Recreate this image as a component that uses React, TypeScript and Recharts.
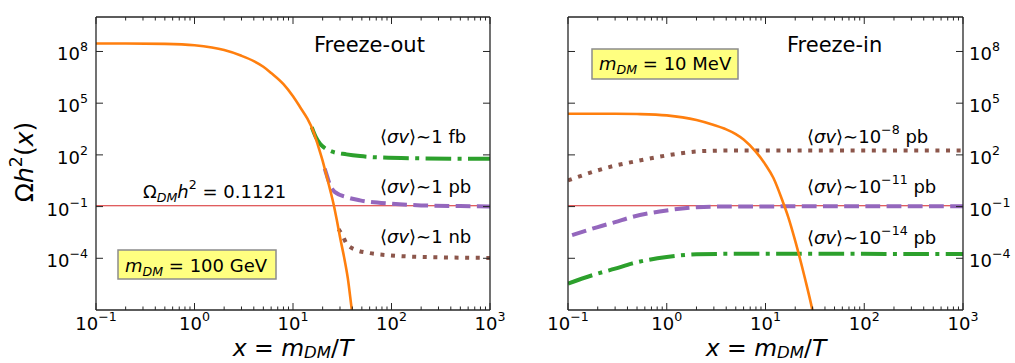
import { LineChart, Line, XAxis, YAxis, ReferenceLine } from 'recharts';

const FONT = '"DejaVu Sans", "Liberation Sans", sans-serif';
const AXIS = '#262626';
const ORANGE = '#ff7f0e';
const GREEN = '#2ca02c';
const PURPLE = '#9467bd';
const BROWN = '#8c564b';
const RED = '#d62728';

const X_TICKS = [
  0.1, 0.2, 0.3, 0.4, 0.5, 0.6, 0.7, 0.8, 0.9,
  1, 2, 3, 4, 5, 6, 7, 8, 9,
  10, 20, 30, 40, 50, 60, 70, 80, 90,
  100, 200, 300, 400, 500, 600, 700, 800, 900,
  1000,
];
const Y_TICKS = [1e-4, 1e-1, 1e2, 1e5, 1e8];
const X_DOMAIN = [0.1, 1000];
const Y_DOMAIN = [1e-7, 1e10];
const OMEGA_DM = 0.1121;

// Freeze-out, m_DM = 100 GeV
const foEquilibrium = [
  { x: 0.1, y: 2.9e8 }, { x: 0.2, y: 2.9e8 }, { x: 0.5, y: 2.75e8 },
  { x: 1, y: 2.3e8 }, { x: 1.5, y: 1.7e8 }, { x: 2, y: 1.2e8 },
  { x: 3, y: 5.6e7 }, { x: 4, y: 2.75e7 }, { x: 5, y: 1.3e7 },
  { x: 6, y: 5.6e6 }, { x: 8, y: 1.26e6 }, { x: 10, y: 2.5e5 },
  { x: 12, y: 5.1e4 }, { x: 14, y: 1.26e4 }, { x: 16, y: 2.5e3 },
  { x: 18, y: 330 }, { x: 20, y: 45 }, { x: 22, y: 5.5 },
  { x: 24, y: 0.79 }, { x: 26, y: 0.117 }, { x: 28, y: 1.4e-2 },
  { x: 30, y: 1.7e-3 }, { x: 33, y: 1.17e-4 }, { x: 36, y: 7.1e-6 },
  { x: 40, y: 6.3e-8 }, { x: 42, y: 1e-8 },
];
const foFb = [
  { x: 15.5, y: 4.1e3 }, { x: 17, y: 1.12e3 }, { x: 18.8, y: 447 },
  { x: 21, y: 251 }, { x: 24.7, y: 158 }, { x: 35, y: 107 },
  { x: 48, y: 85 }, { x: 70, y: 72 }, { x: 200, y: 63 }, { x: 1000, y: 59 },
];
const foPb = [
  { x: 21, y: 15.8 }, { x: 22.5, y: 4.5 }, { x: 23.8, y: 1.7 },
  { x: 26.7, y: 0.69 }, { x: 35, y: 0.355 }, { x: 48, y: 0.23 },
  { x: 100, y: 0.145 }, { x: 200, y: 0.117 }, { x: 500, y: 0.107 },
  { x: 1000, y: 0.102 },
];
const foNb = [
  { x: 29, y: 4.9e-3 }, { x: 31.3, y: 2.5e-3 }, { x: 35, y: 7.1e-4 },
  { x: 42.7, y: 3.2e-4 }, { x: 60, y: 2.0e-4 }, { x: 97, y: 1.48e-4 },
  { x: 200, y: 1.2e-4 }, { x: 1000, y: 1.05e-4 },
];

// Freeze-in, m_DM = 10 MeV
const fiEquilibrium = [
  { x: 0.1, y: 2.45e4 }, { x: 0.3, y: 2.45e4 }, { x: 0.5, y: 2.35e4 },
  { x: 1, y: 1.95e4 }, { x: 2, y: 1.05e4 }, { x: 3, y: 5.4e3 },
  { x: 4, y: 3.0e3 }, { x: 5, y: 1.6e3 }, { x: 6, y: 776 },
  { x: 8, y: 148 }, { x: 10, y: 27 }, { x: 12, y: 4.7 },
  { x: 15, y: 0.186 }, { x: 17, y: 0.0245 }, { x: 20, y: 1.02e-3 },
  { x: 25, y: 7.4e-6 }, { x: 30, y: 8.5e-8 }, { x: 32, y: 1.3e-8 },
];
const fi8 = [
  { x: 0.1, y: 3.3 }, { x: 0.2, y: 12.6 }, { x: 0.3, y: 24 },
  { x: 0.44, y: 38 }, { x: 1, y: 93 }, { x: 2, y: 158 },
  { x: 3, y: 174 }, { x: 5, y: 182 }, { x: 1000, y: 182 },
];
const fi11 = [
  { x: 0.11, y: 2.2e-3 }, { x: 0.2, y: 6.5e-3 }, { x: 0.3, y: 1.26e-2 },
  { x: 0.44, y: 2.45e-2 }, { x: 1, y: 0.06 }, { x: 2, y: 0.091 },
  { x: 3, y: 0.1 }, { x: 5, y: 0.102 }, { x: 1000, y: 0.105 },
];
const fi14 = [
  { x: 0.1, y: 3.4e-6 }, { x: 0.2, y: 1.3e-5 }, { x: 0.3, y: 2.5e-5 },
  { x: 0.44, y: 4.9e-5 }, { x: 1, y: 1.2e-4 }, { x: 2, y: 1.7e-4 },
  { x: 5, y: 1.82e-4 }, { x: 1000, y: 1.78e-4 },
];

type Pt = { x: number; y: number };
interface Series { key: string; data: Pt[]; color: string; width: number; dash?: string }

const LEFT_SERIES: Series[] = [
  { key: 'fb', data: foFb, color: GREEN, width: 4, dash: '25.6 6.4 4 6.4' },
  { key: 'pb', data: foPb, color: PURPLE, width: 4, dash: '14.8 6.4' },
  { key: 'nb', data: foNb, color: BROWN, width: 4, dash: '4 6.6' },
  { key: 'eq', data: foEquilibrium, color: ORANGE, width: 2.6 },
];
const RIGHT_SERIES: Series[] = [
  { key: 'e8', data: fi8, color: BROWN, width: 4, dash: '4 6.6' },
  { key: 'e11', data: fi11, color: PURPLE, width: 4, dash: '14.8 6.4' },
  { key: 'e14', data: fi14, color: GREEN, width: 4, dash: '25.6 6.4 4 6.4' },
  { key: 'eq', data: fiEquilibrium, color: ORANGE, width: 2.6 },
];

const expOf = (v: number) => Math.round(Math.log10(v));
const isMajor = (v: number) => Math.abs(Math.log10(v) - expOf(v)) < 1e-6;
const expText = (e: number) => (e < 0 ? '\u2212' + Math.abs(e) : String(e));

const makeXTick = (top: boolean, label: boolean) => (props: any) => {
  const { x, y, payload } = props;
  const v = payload.value;
  const major = isMajor(v);
  const len = major ? 7 : 3.5;
  const dir = top ? 1 : -1;
  return (
    <g>
      <line x1={x} x2={x} y1={y} y2={y + dir * len} stroke={AXIS} strokeWidth={1} />
      {major && label && (
        <text x={x} y={y + 20} textAnchor="middle" fontFamily={FONT} fontSize={18} fill="#000">
          10<tspan dy={-9} fontSize={12.6}>{expText(expOf(v))}</tspan>
        </text>
      )}
    </g>
  );
};

const makeYTick = (right: boolean, label: boolean) => (props: any) => {
  const { x, y, payload } = props;
  const dir = right ? -1 : 1;
  return (
    <g>
      <line x1={x} x2={x + dir * 7} y1={y} y2={y} stroke={AXIS} strokeWidth={1} />
      {label && (
        <text
          x={right ? x + 6 : x - 8}
          y={y + 9}
          textAnchor={right ? 'start' : 'end'}
          fontFamily={FONT}
          fontSize={18}
          fill="#000"
        >
          10<tspan dy={-9} fontSize={12.6}>{expText(expOf(payload.value))}</tspan>
        </text>
      )}
    </g>
  );
};

const frame = { stroke: AXIS, strokeWidth: 1.3 };

interface PanelProps {
  series: Series[];
  width: number;
  left: number;
  right: number;
  labelsRight: boolean;
}

// axes are 1px thick (a zero-size axis is not drawn), margins are reduced by that pixel
const Panel = ({ series, width, left, right, labelsRight }: PanelProps) => (
  <LineChart width={width} height={363} margin={{ top: 16, right: right - 1, bottom: 52, left: left - 1 }}>
    <XAxis
      xAxisId="b" dataKey="x" type="number" scale="log" domain={X_DOMAIN} allowDataOverflow
      ticks={X_TICKS} interval={0} height={1} tickSize={0} tickMargin={0}
      tickLine={false} axisLine={frame} tick={makeXTick(false, true)}
    />
    <XAxis
      xAxisId="t" orientation="top" dataKey="x" type="number" scale="log" domain={X_DOMAIN} allowDataOverflow
      ticks={X_TICKS} interval={0} height={1} tickSize={0} tickMargin={0}
      tickLine={false} axisLine={frame} tick={makeXTick(true, false)}
    />
    <YAxis
      yAxisId="l" type="number" scale="log" domain={Y_DOMAIN} allowDataOverflow
      ticks={Y_TICKS} interval={0} width={1} tickSize={0} tickMargin={0}
      tickLine={false} axisLine={frame} tick={makeYTick(false, !labelsRight)}
    />
    <YAxis
      yAxisId="r" orientation="right" type="number" scale="log" domain={Y_DOMAIN} allowDataOverflow
      ticks={Y_TICKS} interval={0} width={1} tickSize={0} tickMargin={0}
      tickLine={false} axisLine={frame} tick={makeYTick(true, labelsRight)}
    />
    <ReferenceLine xAxisId="b" yAxisId="l" y={OMEGA_DM} stroke={RED} strokeWidth={1.2} />
    {series.map((s) => (
      <Line
        key={s.key}
        xAxisId="b"
        yAxisId="l"
        data={s.data}
        dataKey="y"
        type="monotone"
        stroke={s.color}
        strokeWidth={s.width}
        strokeDasharray={s.dash}
        dot={false}
        activeDot={false}
        isAnimationActive={false}
      />
    ))}
  </LineChart>
);

const Sv = () => (
  <>
    {'\u27E8'}<tspan fontStyle="italic">σv</tspan>{'\u27E9\u223C'}
  </>
);

const Annotations = () => (
  <svg
    width={1015}
    height={363}
    style={{ position: 'absolute', left: 0, top: 0, pointerEvents: 'none' }}
    fontFamily={FONT}
    fill="#000"
  >
    {/* axis titles */}
    <text transform="rotate(-90 33 162)" x={33} y={162} textAnchor="middle" fontSize={25}>
      Ω<tspan fontStyle="italic">h</tspan>
      <tspan dy={-11} fontSize={17.5}>2</tspan>
      <tspan dy={11}>(</tspan><tspan fontStyle="italic">x</tspan>)
    </text>
    {[293, 766].map((cx) => (
      <text key={cx} x={cx} y={356} textAnchor="middle" fontSize={23.5}>
        <tspan fontStyle="italic">x</tspan> = <tspan fontStyle="italic">m</tspan>
        <tspan dy={2} fontSize={16.5} fontStyle="italic">DM</tspan>
        <tspan dy={-2}>/</tspan><tspan fontStyle="italic">T</tspan>
      </text>
    ))}

    {/* freeze-out panel */}
    <text x={314} y={52} fontSize={21}>Freeze-out</text>
    <text x={380} y={143} fontSize={18}><Sv />1 fb</text>
    <text x={380} y={193} fontSize={18}><Sv />1 pb</text>
    <text x={380} y={243} fontSize={18}><Sv />1 nb</text>
    <text x={143} y={198} fontSize={18}>
      Ω<tspan dy={4} fontSize={12.6} fontStyle="italic">DM</tspan>
      <tspan dy={-4} fontStyle="italic">h</tspan>
      <tspan dy={-9} fontSize={12.6}>2</tspan>
      <tspan dy={9}> = 0.1121</tspan>
    </text>
    <rect x={118} y={250} width={158} height={29} fill="#ffff80" stroke="#8c8c8c" strokeWidth={1.5} />
    <text x={125} y={272} fontSize={18}>
      <tspan fontStyle="italic">m</tspan>
      <tspan dy={4} fontSize={12.6} fontStyle="italic">DM</tspan>
      <tspan dy={-4}> = 100 GeV</tspan>
    </text>

    {/* freeze-in panel */}
    <text x={787} y={52} fontSize={21}>Freeze-in</text>
    <rect x={592} y={49} width={146} height={30} fill="#ffff80" stroke="#8c8c8c" strokeWidth={1.5} />
    <text x={599} y={70} fontSize={18}>
      <tspan fontStyle="italic">m</tspan>
      <tspan dy={4} fontSize={12.6} fontStyle="italic">DM</tspan>
      <tspan dy={-4}> = 10 MeV</tspan>
    </text>
    {[
      { y: 143, e: '\u22128' },
      { y: 193, e: '\u221211' },
      { y: 244, e: '\u221214' },
    ].map((a) => (
      <text key={a.e} x={807} y={a.y} fontSize={18}>
        <Sv />10<tspan dy={-9} fontSize={12.6}>{a.e}</tspan>
        <tspan dy={9}> pb</tspan>
      </text>
    ))}
  </svg>
);

export default function App() {
  return (
    <div style={{ position: 'absolute', left: 0, top: 0, width: 1015, height: 363, background: '#fff' }}>
      <div style={{ position: 'absolute', left: 0, top: 0 }}>
        <Panel series={LEFT_SERIES} width={525} left={96} right={35} labelsRight={false} />
      </div>
      <div style={{ position: 'absolute', left: 500, top: 0 }}>
        <Panel series={RIGHT_SERIES} width={515} left={68} right={52} labelsRight />
      </div>
      <Annotations />
    </div>
  );
}
